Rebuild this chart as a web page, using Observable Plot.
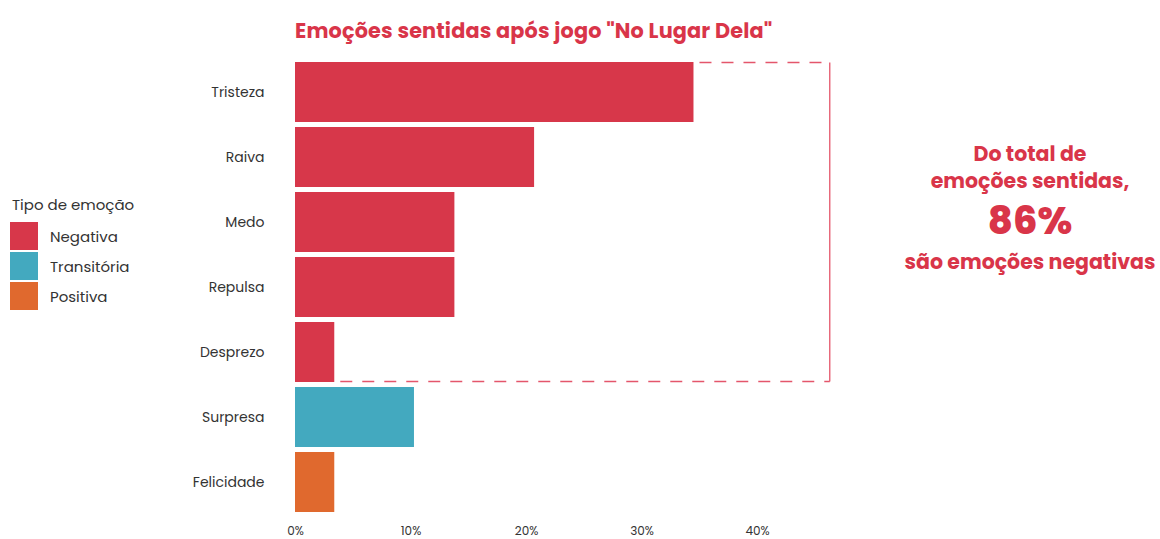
<!DOCTYPE html>
<html><head><meta charset="utf-8">
<script src="https://cdn.jsdelivr.net/npm/d3@7"></script>
<script src="https://cdn.jsdelivr.net/npm/@observablehq/plot@0.6"></script>
<style>
body{margin:0;background:#fff;font-family:Poppins,Inter,"Open Sans",sans-serif;}
#wrap{position:relative;width:1160px;height:539px;overflow:hidden;background:#fff}
#title{position:absolute;left:295px;top:15px;font-size:20.8px;font-weight:700;color:#d93549;white-space:nowrap;letter-spacing:0.15px}
#chart{position:absolute;left:0;top:45px}
#legend{position:absolute;left:10px;top:193px;color:#333;font-size:15px}
#legend .lt{margin-left:2px;margin-bottom:5px}
#legend .row{display:flex;align-items:center;height:30px}
#legend .sw{width:28px;height:28px;margin-right:12px}
.note{position:absolute;left:870px;width:320px;text-align:center;color:#d93549;font-weight:700;font-size:20.5px;line-height:30px;white-space:nowrap}
.note.big{font-size:38.5px;font-weight:800}
</style>
</head><body>
<div id="wrap">
  <div id="title"></div>
  <div id="chart"></div>
  <div id="legend"></div>
</div>
<script>
const emotions = ["Tristeza","Raiva","Medo","Repulsa","Desprezo","Surpresa","Felicidade"];
const shares = [34.5, 20.7, 13.8, 13.8, 3.4, 10.3, 3.4];
const emotionTypes = ["Negativa","Negativa","Negativa","Negativa","Negativa","Transitória","Positiva"];
const typeNames = ["Negativa","Transitória","Positiva"];
const typeColors = ["#d7374a","#43a9bf","#e0692e"];
const xTicks = [0, 10, 20, 30, 40];
const titleText = 'Emoções sentidas após jogo "No Lugar Dela"';
const legendTitle = "Tipo de emoção";
const noteLines = ["Do total de", "emoções sentidas,", "86%", "são emoções negativas"];
const noteTops = [139, 166, 206, 247];
const boxRight = 46.3;

const data = emotions.map((e, i) => ({emotion: e, share: shares[i], type: emotionTypes[i]}));

document.getElementById("title").textContent = titleText;

const chart = Plot.plot({
  width: 1160, height: 494,
  marginLeft: 295, marginRight: 403, marginTop: 16, marginBottom: 27,
  style: {fontFamily: "Poppins, Inter, sans-serif", color: "#333", background: "transparent"},
  x: {domain: [0, 40], ticks: xTicks, tickFormat: d => d + "%", label: null},
  y: {domain: emotions, paddingInner: 0.08, paddingOuter: 0, label: null},
  color: {domain: typeNames, range: typeColors},
  marks: [
    Plot.barX(data, {x: "share", y: "emotion", fill: "type"}),
    Plot.axisX({ticks: xTicks, tickSize: 0, tickPadding: 14, fontSize: 12, tickFormat: d => d + "%", label: null}),
    Plot.axisY({tickSize: 0, tickPadding: 31, fontSize: 14, label: null})
  ]
});
document.getElementById("chart").appendChild(chart);

// annotation box around negative emotions
const xs = chart.scale("x"), ys = chart.scale("y");
const neg = data.filter(d => d.type === "Negativa");
const first = neg[0], last = neg[neg.length - 1];
const yTop = ys.apply(first.emotion) + 0.5;
const yBot = ys.apply(last.emotion) + ys.bandwidth - 0.5;
const xR = xs.apply(boxRight);
const svg = d3.select(chart);
const g = svg.append("g").attr("fill", "none").attr("stroke", "#e4566b").attr("stroke-width", 1.3);
g.append("line").attr("x1", xs.apply(first.share) + 6).attr("x2", xR).attr("y1", yTop).attr("y2", yTop).attr("stroke-dasharray", "12,10");
g.append("line").attr("x1", xs.apply(last.share) + 6).attr("x2", xR).attr("y1", yBot).attr("y2", yBot).attr("stroke-dasharray", "12,10");
g.append("line").attr("x1", xR).attr("x2", xR).attr("y1", yTop).attr("y2", yBot);

// legend
const lg = document.getElementById("legend");
const lt = document.createElement("div"); lt.className = "lt"; lt.textContent = legendTitle; lg.appendChild(lt);
typeNames.forEach((t, i) => {
  const row = document.createElement("div"); row.className = "row";
  const sw = document.createElement("div"); sw.className = "sw"; sw.style.background = typeColors[i];
  const lab = document.createElement("span"); lab.textContent = t;
  row.appendChild(sw); row.appendChild(lab); lg.appendChild(row);
});

// note
const wrap = document.getElementById("wrap");
noteLines.forEach((s, i) => {
  const d = document.createElement("div"); d.textContent = s;
  d.className = i === 2 ? "note big" : "note";
  d.style.top = noteTops[i] + "px";
  wrap.appendChild(d);
});
</script>
</body></html>
